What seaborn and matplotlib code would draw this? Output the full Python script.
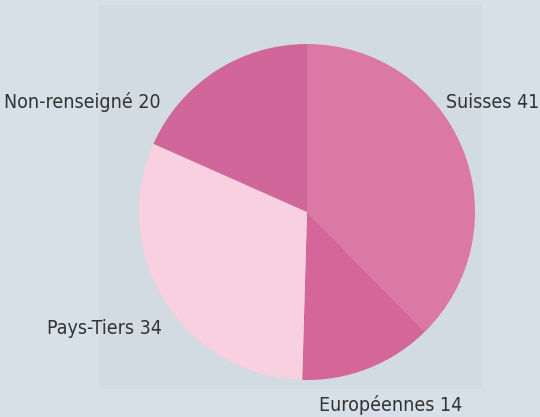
import matplotlib
matplotlib.use("Agg")
import matplotlib.pyplot as plt
import seaborn as sns
from matplotlib.patches import Rectangle

categories = ["Suisses", "Européennes", "Pays-Tiers", "Non-renseigné"]
values = [41, 14, 34, 20]
colors = ["#dc78a5", "#d4669a", "#f8d0df", "#d0669a"]

sns.set_theme(style="white")
plt.rcParams['font.family'] = ['DejaVu Sans']

W, H = 540, 417
fig = plt.figure(figsize=(W / 100, H / 100), dpi=100)
fig.patch.set_facecolor("#d6e0e8")
ax = fig.add_axes([0, 0, 1, 1])

ax.add_patch(Rectangle((99, H - 389), 383, 384, facecolor="#d2dae2", edgecolor="none", zorder=0))

cx, cy, r = 307, H - 212, 168
ax.pie(values, colors=colors, startangle=90, counterclock=False,
       center=(cx, cy), radius=r, frame=True,
       wedgeprops=dict(linewidth=0, edgecolor="none"))
ax.set_xlim(0, W)
ax.set_ylim(0, H)
ax.set_aspect("equal")
ax.axis("off")

txt = dict(color="#333333", fontsize=14, va="center", fontstretch="condensed")
labels = [f"{c} {v}" for c, v in zip(categories, values)]
ax.text(446, H - 102, labels[0], ha="left", **txt)
ax.text(391, H - 405, labels[1], ha="center", **txt)
ax.text(162, H - 328, labels[2], ha="right", **txt)
ax.text(161, H - 102, labels[3], ha="right", **txt)

fig.savefig("out.png", dpi=100, facecolor=fig.get_facecolor())
